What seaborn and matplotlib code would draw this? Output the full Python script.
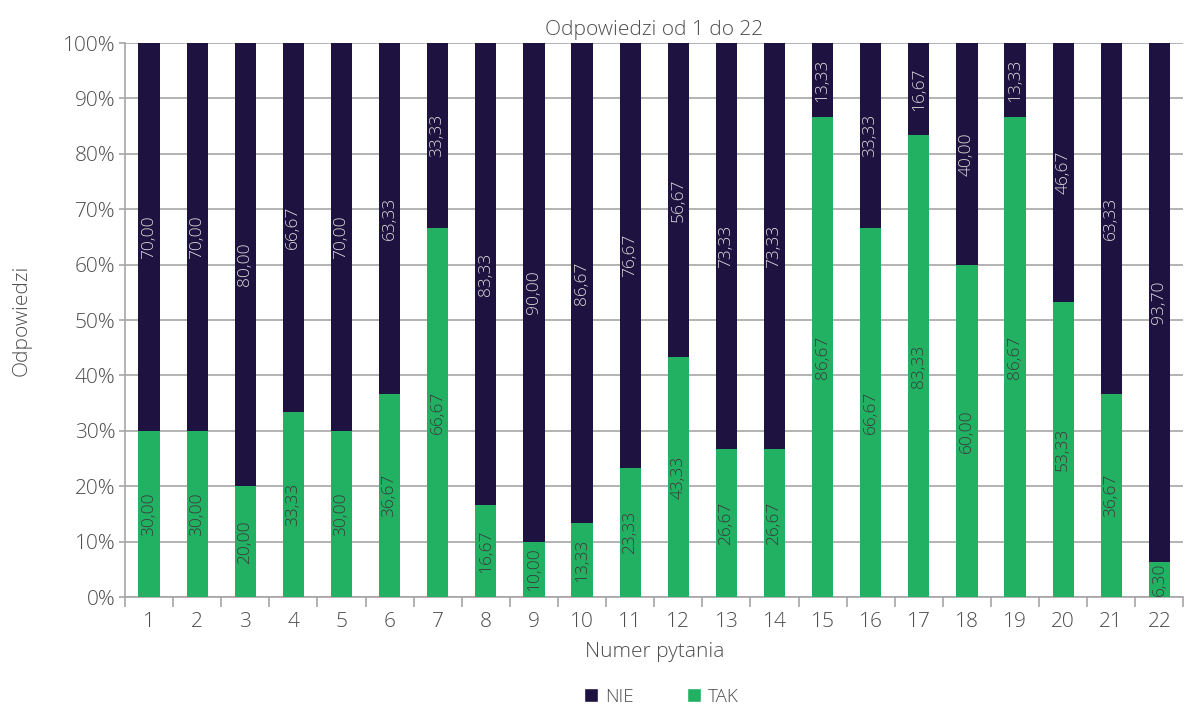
import matplotlib
matplotlib.use("Agg")
import matplotlib.pyplot as plt
from matplotlib.patches import Patch
from matplotlib.ticker import FixedLocator, FuncFormatter
import seaborn as sns
import pandas as pd

questions = [str(i) for i in range(1, 23)]
tak = [30.00, 30.00, 20.00, 33.33, 30.00, 36.67, 66.67, 16.67, 10.00, 13.33, 23.33,
       43.33, 26.67, 26.67, 86.67, 66.67, 83.33, 60.00, 86.67, 53.33, 36.67, 6.30]
nie = [70.00, 70.00, 80.00, 66.67, 70.00, 63.33, 33.33, 83.33, 90.00, 86.67, 76.67,
       56.67, 73.33, 73.33, 13.33, 33.33, 16.67, 40.00, 13.33, 46.67, 63.33, 93.70]

NIE_COLOR = "#1e1240"
TAK_COLOR = "#22b163"
TEXT = "#4d4d4d"
GRID = "#a6a6a6"

sns.set_theme(style="white")
plt.rcParams["font.family"] = ["Open Sans", "DejaVu Sans"]
plt.rcParams["font.weight"] = "light"
plt.rcParams["axes.titleweight"] = "light"
plt.rcParams["axes.labelweight"] = "light"

df = pd.DataFrame({"q": questions, "tak": tak, "nie": nie})
df["top"] = df["tak"] + df["nie"]

fig = plt.figure(figsize=(11.96, 7.05), dpi=100)
ax = fig.add_axes([0.1045, 0.153, 0.885, 0.786])

# stacked bars: NIE segment drawn as the full stack, TAK on top of it
sns.barplot(data=df, x="q", y="top", color=NIE_COLOR, width=0.44, saturation=1,
            linewidth=0, ax=ax, zorder=2)
sns.barplot(data=df, x="q", y="tak", color=TAK_COLOR, width=0.44, saturation=1,
            linewidth=0, ax=ax, zorder=3)

for i, (t, n) in enumerate(zip(tak, nie)):
    ax.text(i, t / 2, f"{t:.2f}".replace(".", ","), rotation=90, ha="center", va="center",
            fontsize=12.5, color="#3a3a3a", zorder=4)
    ax.text(i, t + n / 2, f"{n:.2f}".replace(".", ","), rotation=90, ha="center", va="center",
            fontsize=12.5, color="#d9d9d9", zorder=4)

ax.set_xlim(-0.5, len(questions) - 0.5)
ax.set_ylim(0, 100)
ax.yaxis.set_major_locator(FixedLocator(range(0, 101, 10)))
ax.yaxis.set_major_formatter(FuncFormatter(lambda v, p: f"{int(v)}%"))
ax.grid(axis="y", color=GRID, linewidth=1.2, zorder=0)
ax.set_axisbelow(True)

for side in ["top", "right"]:
    ax.spines[side].set_visible(False)
for side in ["left", "bottom"]:
    ax.spines[side].set_color(GRID)
    ax.spines[side].set_linewidth(1.2)

ax.xaxis.set_minor_locator(FixedLocator([i - 0.5 for i in range(len(questions) + 1)]))
ax.tick_params(axis="x", which="major", length=0, pad=11, labelsize=15, labelcolor=TEXT)
ax.tick_params(axis="x", which="minor", length=7, width=1.2, color=GRID, direction="out", bottom=True)
ax.tick_params(axis="y", which="major", length=4, width=1.2, color=GRID, left=True,
               labelsize=15, labelcolor=TEXT, pad=3)

ax.set_title("Odpowiedzi od 1 do 22", fontsize=15, color=TEXT, pad=6)
ax.set_xlabel("Numer pytania", fontsize=15, color=TEXT, labelpad=7)
ax.set_ylabel("Odpowiedzi", fontsize=15, color=TEXT, labelpad=22)

handles = [Patch(facecolor=NIE_COLOR, label="NIE"), Patch(facecolor=TAK_COLOR, label="TAK")]
fig.legend(handles=handles, loc="center", bbox_to_anchor=(0.553, 0.012), ncol=2, frameon=False,
           fontsize=13.5, labelcolor=TEXT, handlelength=0.75, handleheight=0.75, columnspacing=2.8,
           handletextpad=0.4)

fig.savefig("out.png", dpi=100)
